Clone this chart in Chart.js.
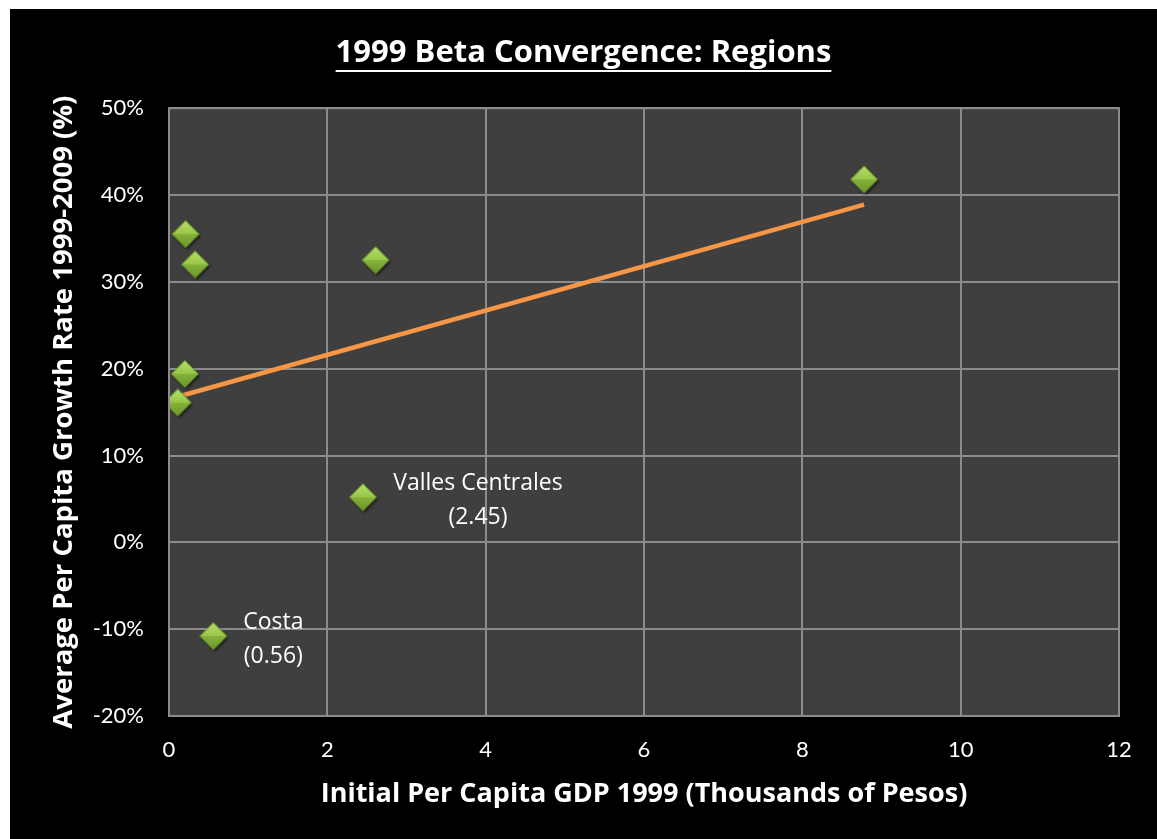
<!DOCTYPE html>
<html>
<head>
<meta charset="utf-8">
<script src="https://cdn.jsdelivr.net/npm/chart.js@4/dist/chart.umd.min.js"></script>
<style>
    body { margin: 0; background: #ffffff; }
    #wrap { position: absolute; left: 10px; top: 9px; width: 1147px; height: 830px; background: #000000; }
</style>
</head>
<body>
<div id="wrap"><canvas id="scatterBeta"></canvas></div>
<script>
/*
 * Dados das regioes (PIB per capita inicial x crescimento medio)
 * */
var regioes = ['', '', '', '', '', '', 'Valles Centrales', 'Costa'];
var pibInicial = [0.21, 0.33, 2.61, 8.78, 0.20, 0.11, 2.45, 0.56];
var crescimento = [35.5, 32.0, 32.5, 41.8, 19.4, 16.1, 5.2, -10.8];

// linha de tendencia (pontos extremos)
var tendX = [0.12, 8.78];
var tendY = [16.8, 38.9];

var xTicks = [0, 2, 4, 6, 8, 10, 12];
var yTicks = [-20, -10, 0, 10, 20, 30, 40, 50];

var fonte = '"Open Sans"';
var fonteTicks = 'Lato';

function montaPontos(xs, ys){
    var pontos = [];
    for(i = 0; i < xs.length; i++){
        pontos.push({x: xs[i], y: ys[i]});
    }
    return pontos;
}

// marcador em losango com efeito 3D
function criaMarcador(){
    var c = document.createElement('canvas');
    c.width = 38;
    c.height = 38;
    var ctx = c.getContext('2d');
    var cx = 19, cy = 19, r = 13.5;

    ctx.save();
    ctx.shadowColor = 'rgba(0,0,0,0.6)';
    ctx.shadowBlur = 3;
    ctx.shadowOffsetX = 1.5;
    ctx.shadowOffsetY = 2;
    ctx.beginPath();
    ctx.moveTo(cx, cy - r);
    ctx.lineTo(cx + r, cy);
    ctx.lineTo(cx, cy + r);
    ctx.lineTo(cx - r, cy);
    ctx.closePath();
    ctx.fillStyle = '#7fa935';
    ctx.fill();
    ctx.restore();

    var gTop = ctx.createLinearGradient(0, cy - r, 0, cy);
    gTop.addColorStop(0, '#b8de6c');
    gTop.addColorStop(1, '#98c748');
    ctx.beginPath();
    ctx.moveTo(cx, cy - r);
    ctx.lineTo(cx + r, cy);
    ctx.lineTo(cx - r, cy);
    ctx.closePath();
    ctx.fillStyle = gTop;
    ctx.fill();

    var gBot = ctx.createLinearGradient(0, cy, 0, cy + r);
    gBot.addColorStop(0, '#86b23b');
    gBot.addColorStop(1, '#6b962a');
    ctx.beginPath();
    ctx.moveTo(cx - r, cy);
    ctx.lineTo(cx + r, cy);
    ctx.lineTo(cx, cy + r);
    ctx.closePath();
    ctx.fillStyle = gBot;
    ctx.fill();

    ctx.beginPath();
    ctx.moveTo(cx, cy - r);
    ctx.lineTo(cx + r, cy);
    ctx.lineTo(cx, cy + r);
    ctx.lineTo(cx - r, cy);
    ctx.closePath();
    ctx.strokeStyle = '#5f8a22';
    ctx.lineWidth = 1;
    ctx.stroke();
    return c;
}

// fundo cinza da area do grafico
var fundoArea = {
    id: 'fundoArea',
    beforeDraw: function(chart){
        var a = chart.chartArea;
        var ctx = chart.ctx;
        ctx.save();
        ctx.fillStyle = '#3f3f3f';
        ctx.fillRect(a.left, a.top, a.right - a.left, a.bottom - a.top);
        ctx.restore();
    },
    afterDraw: function(chart){
        var a = chart.chartArea;
        var ctx = chart.ctx;
        ctx.save();
        ctx.strokeStyle = '#8c8c8c';
        ctx.lineWidth = 2;
        ctx.strokeRect(a.left, a.top, a.right - a.left, a.bottom - a.top);

        // sublinhado do titulo
        var t = chart.options.plugins.title;
        var tb = chart.titleBlock;
        ctx.font = 'bold ' + t.font.size + 'px ' + fonte;
        var w = ctx.measureText(t.text).width;
        var meio = (tb.left + tb.right) / 2;
        var yLinha = tb.top + t.padding.top + t.font.size * 1.2 / 2 + t.font.size * 0.56;
        ctx.strokeStyle = '#ffffff';
        ctx.lineWidth = 2;
        ctx.beginPath();
        ctx.moveTo(meio - w / 2, yLinha);
        ctx.lineTo(meio + w / 2, yLinha);
        ctx.stroke();
        ctx.restore();
    }
};

// rotulos das regioes destacadas
var rotulos = {
    id: 'rotulos',
    afterDatasetsDraw: function(chart){
        var ctx = chart.ctx;
        var meta = chart.getDatasetMeta(0);
        ctx.save();
        ctx.font = '23px ' + fonte;
        ctx.fillStyle = '#ffffff';
        ctx.textAlign = 'center';
        ctx.textBaseline = 'middle';
        for(var k = 0; k < regioes.length; k++){
            var nome = regioes[k];
            if(!nome) continue;
            var p = meta.data[k];
            var dx = nome.length > 6 ? 115 : 60;
            ctx.fillText(nome, p.x + dx, p.y - 14);
            ctx.fillText('(' + pibInicial[k].toFixed(2) + ')', p.x + dx, p.y + 20);
        }
        ctx.restore();
    }
};

function loadChart(selectorId){
    var canvas = document.getElementById(selectorId);
    var ctx = canvas.getContext('2d');

    var chartData = {
        datasets: [{
            type: 'scatter',
            label: 'Regioes',
            data: montaPontos(pibInicial, crescimento),
            pointStyle: criaMarcador(),
            pointRadius: 14,
            pointHoverRadius: 14,
            order: 1
        }, {
            type: 'line',
            label: 'Tendencia',
            data: montaPontos(tendX, tendY),
            borderColor: '#f79646',
            borderWidth: 4.5,
            pointRadius: 0,
            fill: false,
            order: 2
        }]
    };

    var options = {
        responsive: true,
        maintainAspectRatio: false,
        animation: false,
        layout: { padding: 0 },
        plugins: {
            legend: { display: false },
            tooltip: { enabled: false },
            title: {
                display: true,
                text: '1999 Beta Convergence: Regions',
                color: '#ffffff',
                font: { family: fonte, size: 31, weight: 'bold' },
                padding: { top: 26, bottom: 36 }
            }
        },
        scales: {
            x: {
                type: 'linear',
                min: 0,
                max: 12,
                afterBuildTicks: function(scale){
                    scale.ticks = xTicks.map(function(v){ return {value: v}; });
                },
                afterFit: function(scale){ scale.height = 123; },
                grid: { color: '#8c8c8c', lineWidth: 2, drawTicks: false },
                border: { display: false },
                ticks: {
                    color: '#ffffff',
                    padding: 21,
                    font: { family: fonteTicks, size: 22 }
                },
                title: {
                    display: true,
                    text: 'Initial Per Capita GDP 1999 (Thousands of Pesos)',
                    color: '#ffffff',
                    font: { family: fonte, size: 27, weight: 'bold' },
                    padding: { top: 0, bottom: 28 }
                }
            },
            y: {
                type: 'linear',
                min: -20,
                max: 50,
                afterBuildTicks: function(scale){
                    scale.ticks = yTicks.map(function(v){ return {value: v}; });
                },
                afterFit: function(scale){ scale.width = 159; },
                grid: { color: '#8c8c8c', lineWidth: 2, drawTicks: false },
                border: { display: false },
                ticks: {
                    color: '#ffffff',
                    padding: 25,
                    font: { family: fonteTicks, size: 22 },
                    callback: function(v){ return v + '%'; }
                },
                title: {
                    display: true,
                    text: 'Average Per Capita Growth Rate 1999-2009 (%)',
                    color: '#ffffff',
                    font: { family: fonte, size: 27.5, weight: 'bold' },
                    padding: { top: 38, bottom: 0 }
                }
            },
            // eixo vazio a direita so para reservar a margem
            margemDireita: {
                type: 'linear',
                position: 'right',
                display: true,
                afterFit: function(scale){ scale.width = 38; },
                grid: { display: false },
                border: { display: false },
                ticks: { display: false }
            }
        }
    };

    var chart = new Chart(ctx, {
        data: chartData,
        options: options,
        plugins: [fundoArea, rotulos]
    });
    return chart;
}

loadChart('scatterBeta');
</script>
</body>
</html>
